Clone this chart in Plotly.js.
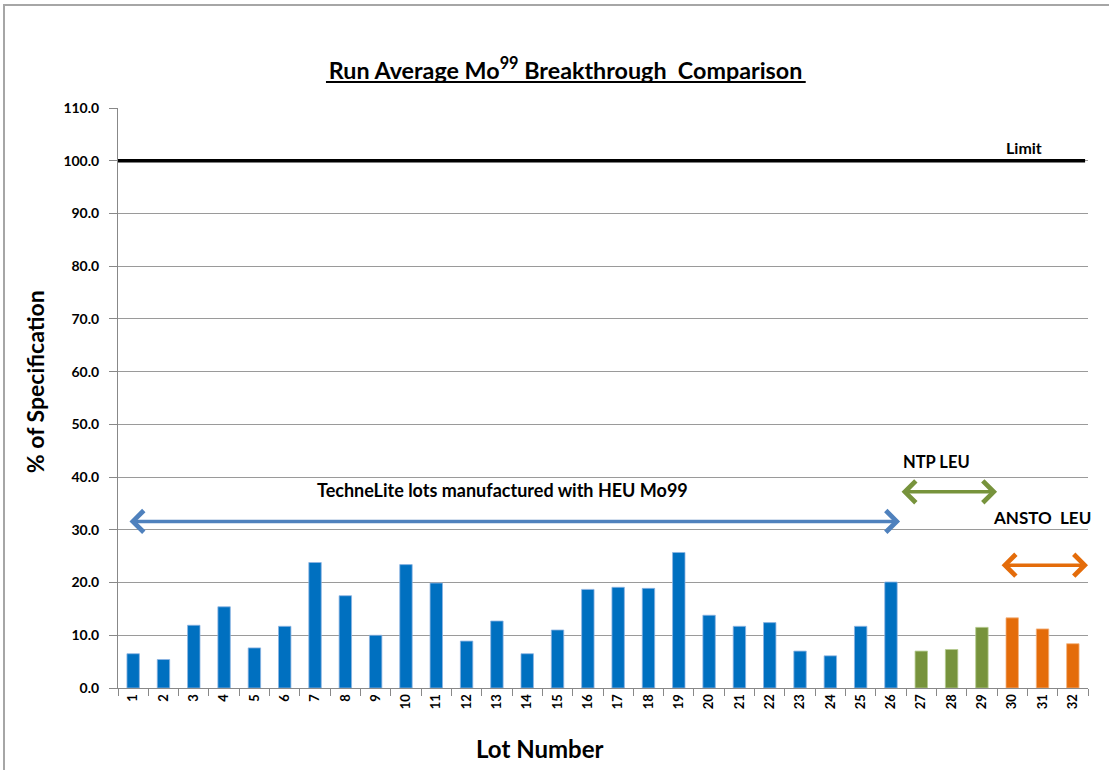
<!DOCTYPE html>
<html>
<head>
<meta charset="utf-8">
<script src="https://cdn.plot.ly/plotly-3.0.1.min.js"></script>
<style>
  html, body { margin: 0; padding: 0; background: #fff; }
  #frame { position: absolute; left: 3px; top: 4px; width: 1200px; height: 900px;
           border-left: 2px solid #a6a6a6; border-top: 2px solid #a6a6a6; box-sizing: border-box; pointer-events: none; }
  #chart { position: absolute; left: 0; top: 0; width: 1109px; height: 770px; }
</style>
</head>
<body>
<div id="chart"></div>
<div id="frame"></div>
<script>
// ---- data ----
const lots = ["1","2","3","4","5","6","7","8","9","10","11","12","13","14","15","16",
              "17","18","19","20","21","22","23","24","25","26","27","28","29","30","31","32"];
const breakthrough = [6.5, 5.4, 11.9, 15.4, 7.6, 11.7, 23.8, 17.5, 10.0, 23.4, 19.9, 8.9,
                      12.7, 6.5, 11.0, 18.7, 19.1, 18.9, 25.7, 13.8, 11.7, 12.4, 7.0, 6.1,
                      11.7, 20.1, 7.0, 7.3, 11.5, 13.3, 11.2, 8.4];
const source = ["HEU","HEU","HEU","HEU","HEU","HEU","HEU","HEU","HEU","HEU","HEU","HEU","HEU",
                "HEU","HEU","HEU","HEU","HEU","HEU","HEU","HEU","HEU","HEU","HEU","HEU","HEU",
                "NTP","NTP","NTP","ANSTO","ANSTO","ANSTO"];
const limitValue = 100;
const yTicks = [0,10,20,30,40,50,60,70,80,90,100,110];

const sourceColor = { HEU: "#0070C0", NTP: "#77933C", ANSTO: "#E46C0A" };
const edgeColor = { HEU: "#8DB4E2", NTP: "#B5CC8E", ANSTO: "#F5B37E" };

const FONT = "Lato, 'Noto Sans', sans-serif";

const trace = {
  type: "bar",
  x: lots,
  y: breakthrough,
  width: 0.41,
  marker: {
    color: source.map(s => sourceColor[s]),
    line: { color: source.map(s => edgeColor[s]), width: 0.8 }
  },
  hoverinfo: "x+y",
  showlegend: false
};

function dblArrow(x0, x1, y, color) {
  return { x: x1, y: y, ax: x0, ay: y, xref: "x", yref: "y", axref: "x", ayref: "y",
           text: "", showarrow: true, arrowside: "end+start", arrowhead: 4, arrowsize: 1.2,
           arrowwidth: 3.5, arrowcolor: color, standoff: 0, startstandoff: 0 };
}
function label(x, y, text, size) {
  return { x: x, y: y, xref: "x", yref: "y", text: "<b>" + text + "</b>", showarrow: false,
           xanchor: "center", yanchor: "middle",
           font: { family: FONT, size: size, color: "#000" } };
}

const layout = {
  width: 1109, height: 770,
  margin: { l: 118, r: 21, t: 108, b: 82 },
  paper_bgcolor: "rgba(0,0,0,0)",
  plot_bgcolor: "#fff",
  font: { family: FONT, color: "#000" },
  title: {
    text: "<b>Run Average Mo<sup>99</sup> Breakthrough  Comparison</b>",
    font: { family: FONT, size: 23.3, color: "#000" },
    x: 0.51, xanchor: "center", y: 0.908, yanchor: "middle"
  },
  xaxis: {
    type: "category",
    range: [-0.5, 31.5],
    tickangle: -90,
    tickfont: { family: FONT, size: 13, color: "#000", weight: "bold" },
    ticks: "outside", tickson: "boundaries", ticklen: 7, tickcolor: "#888",
    showline: true, linecolor: "#888", linewidth: 1,
    showgrid: false
  },
  yaxis: {
    range: [0, 110],
    tickvals: yTicks,
    tickformat: ".1f",
    tickfont: { family: FONT, size: 14, color: "#000", weight: "bold" },
    ticks: "outside", ticklen: 8, tickcolor: "#888", ticklabelstandoff: 7,
    showline: true, linecolor: "#888", linewidth: 1,
    showgrid: true, gridcolor: "#9a9a9a", gridwidth: 1,
    zeroline: false
  },
  shapes: [
    { type: "line", xref: "paper", yref: "y", x0: 0, x1: 0.997, y0: limitValue, y1: limitValue,
      line: { color: "#000", width: 3.5 } },
    { type: "line", xref: "paper", yref: "paper", x0: 0.2144, x1: 0.709, y0: 1.0448, y1: 1.0448,
      line: { color: "#000", width: 2 } }
  ],
  annotations: [
    { xref: "paper", yref: "paper", x: 0.435, y: -0.105, xanchor: "center", yanchor: "middle",
      text: "<b>Lot Number</b>", showarrow: false,
      font: { family: FONT, size: 24, color: "#000" } },
    { xref: "paper", yref: "paper", x: -0.0856, y: 0.529, xanchor: "center", yanchor: "middle",
      text: "<b>% of Specification</b>", showarrow: false,
      textangle: -90, font: { family: FONT, size: 23, color: "#000" } },
    label(29.39, 102.6, "Limit", 16),
    label(12.17, 37.55, "TechneLite lots manufactured with HEU Mo99", 18),
    label(26.49, 42.86, "NTP LEU", 16.5),
    label(29.98, 32.43, "ANSTO  LEU", 17),
    dblArrow(-0.17, 25.3, 31.6, "#4F81BD"),
    dblArrow(25.3, 28.5, 37.2, "#77933C"),
    dblArrow(28.6, 31.5, 23.3, "#E46C0A")
  ]
};

Plotly.newPlot("chart", [trace], layout, { displayModeBar: false, staticPlot: true });
</script>
</body>
</html>
